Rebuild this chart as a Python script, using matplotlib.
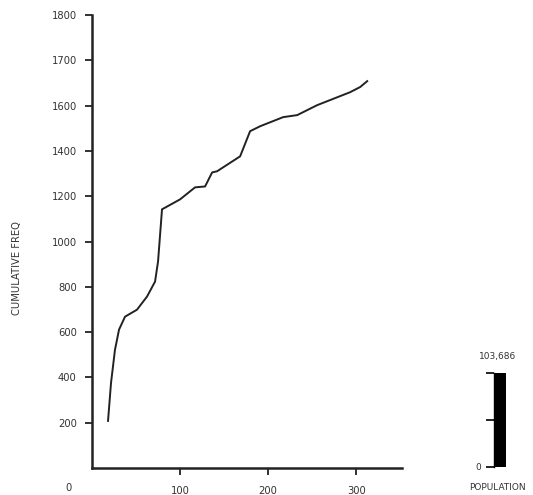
import matplotlib
matplotlib.use("Agg")
import matplotlib.pyplot as plt

plt.rcParams['font.family'] = ['DejaVu Sans']

# cumulative frequency curve (x in population units, y in axis units)
x_vals = [18.2, 21.6, 26.1, 30.7, 37.5, 51.1, 62.5, 71.6, 75.0, 79.5, 100, 117,
          128.4, 136.4, 142, 168.2, 179.5, 191, 217, 233, 255.7, 293, 304.5, 312.5]
y_vals = [208, 376, 522, 611, 668, 699, 757, 823, 912, 1142, 1186, 1239,
          1243, 1305, 1310, 1376, 1487, 1509, 1549, 1558, 1602, 1659, 1682, 1708]

y_tick_pos = [200, 400, 600, 800, 1000, 1200, 1400, 1600, 1800, 2000]
y_tick_labels = ['200', '400', '600', '800', '1000', '1200', '1400', '1600', '1700', '1800']
x_tick_pos = [100, 200, 300]
x_tick_labels = ['100', '200', '300']

population_value = 103686
population_label = '103,686'

W, H = 533, 495
fig = plt.figure(figsize=(W / 100, H / 100), dpi=100)
ax = fig.add_axes([92 / W, (H - 468) / H, (402 - 92) / W, (468 - 15) / H])
ax.plot(x_vals, y_vals, color='#222222', lw=1.4)
ax.set_xlim(0, 352)
ax.set_ylim(0, 2000)
ax.set_yticks(y_tick_pos)
ax.set_yticklabels(y_tick_labels)
ax.set_xticks(x_tick_pos)
ax.set_xticklabels(x_tick_labels)
for s in ['top', 'right']:
    ax.spines[s].set_visible(False)
for s in ['left', 'bottom']:
    ax.spines[s].set_linewidth(1.8)
    ax.spines[s].set_color('#222222')
ax.tick_params(axis='both', direction='out', length=5, width=1.3, color='#222222',
               labelsize=7.2, labelcolor='#333333')
ax.tick_params(axis='y', pad=6)
ax.tick_params(axis='x', pad=8)
fig.text(68 / W, (H - 488) / H, '0', fontsize=7.2, color='#333333', ha='center', va='center')
fig.text(17 / W, (H - 268) / H, 'CUMULATIVE FREQ', rotation=90, fontsize=7.2,
         color='#333333', ha='center', va='center')

# population bar
ax2 = fig.add_axes([494 / W, (H - 467) / H, (506 - 494) / W, (467 - 373) / H])
ax2.bar([0.5], [population_value], width=1.0, color='black')
ax2.set_xlim(0, 1)
ax2.set_ylim(0, population_value)
ax2.set_xticks([])
ax2.set_yticks([0, population_value / 2, population_value])
ax2.set_yticklabels(['0', '', ''])
for s in ['top', 'right', 'bottom']:
    ax2.spines[s].set_visible(False)
ax2.spines['left'].set_linewidth(1.0)
ax2.tick_params(axis='y', direction='out', length=6, width=1.2, labelsize=6.5,
                labelcolor='#333333', pad=3)
ax2.patch.set_alpha(0)
fig.text(498 / W, (H - 357) / H, population_label, fontsize=6.5, color='#333333',
         ha='center', va='center')
fig.text(497 / W, (H - 488) / H, 'POPULATION', fontsize=6.5, color='#333333',
         ha='center', va='center')

fig.savefig('out.png', dpi=100)
